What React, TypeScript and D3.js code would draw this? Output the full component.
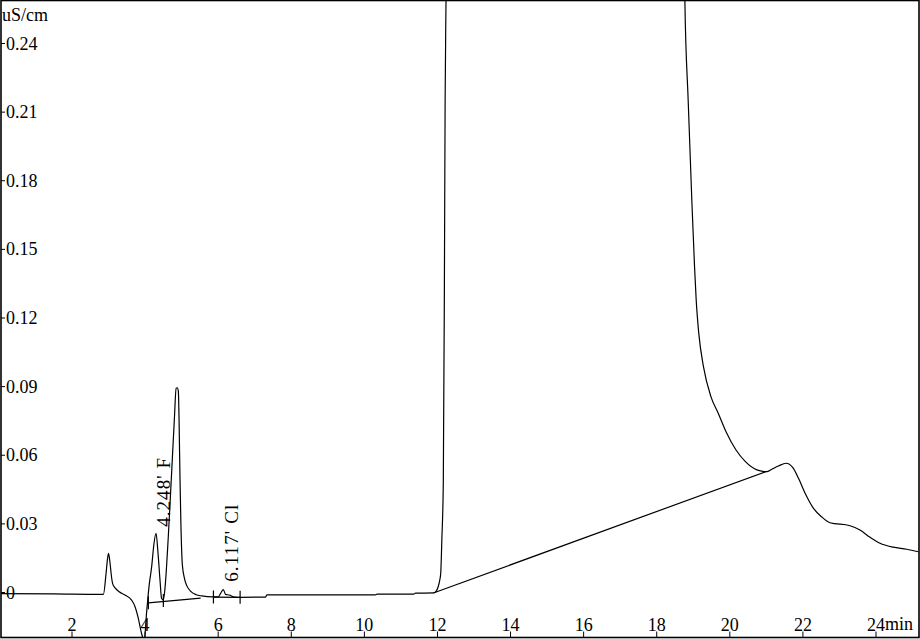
import React from "react";
import * as d3 from "d3";

// ---- data ----
const traceTime: number[] = [
  0, 1.5, 2.75, 2.86, 2.93, 2.97, 3.0, 3.04, 3.08, 3.11, 3.18, 3.29, 3.45, 3.63, 3.72, 3.81, 3.89, 3.93, 3.97,
  4.04, 4.11, 4.18, 4.24, 4.3, 4.35, 4.41, 4.45, 4.5, 4.545, 4.635, 4.73, 4.8, 4.85, 4.88, 4.91, 4.93, 4.955,
  4.98, 5.02, 5.08, 5.14, 5.25, 5.4, 5.55, 5.85, 6.0, 6.08, 6.14, 6.2, 6.3, 6.45, 6.6, 7.3, 7.33, 10.3, 10.35,
  11.35, 11.4, 11.89, 11.96, 12.02, 12.07, 12.09, 12.12, 12.16, 12.19, 12.21, 12.235, 12.3, 18.7, 18.77, 18.86,
  18.96, 19.035, 19.08, 19.15, 19.28, 19.485, 19.68, 19.9, 20.17, 20.42, 20.74, 21.01, 21.15, 21.33, 21.54, 21.72,
  21.88, 22.06, 22.29, 22.51, 22.74, 23.29, 23.56, 23.84, 24.11, 24.47, 24.84, 25.16,
];
const traceSignal: number[] = [
  -0.0005, -0.0006, -0.0008, -0.0008, 0.008, 0.0145, 0.0171, 0.013, 0.007, 0.004, 0.002, 0.0003, -0.0011, -0.0033,
  -0.006, -0.011, -0.017, -0.0195, -0.022, -0.009, 0.003, 0.0113, 0.021, 0.0259, 0.018, 0.005, -0.0025, -0.0033,
  0.002, 0.0244, 0.0536, 0.0755, 0.0893, 0.0895, 0.088, 0.075, 0.05, 0.03, 0.012, 0.006, 0.003, 0.0005, -0.001,
  -0.0015, -0.0019, -0.0019, 0.0, 0.0013, -0.0008, -0.0011, -0.002, -0.0021, -0.002, -0.001, -0.001, -0.0007,
  -0.0007, -0.0003, -0.0002, 0.0005, 0.0025, 0.006, 0.0085, 0.023, 0.048, 0.135, 0.215, 0.26, 0.4, 0.4, 0.259,
  0.2153, 0.1716, 0.1423, 0.1279, 0.1134, 0.0986, 0.0855, 0.0785, 0.0702, 0.0623, 0.0573, 0.0536, 0.0528, 0.0539,
  0.0553, 0.0565, 0.0547, 0.0499, 0.0434, 0.0368, 0.0331, 0.0305, 0.0292, 0.0273, 0.0241, 0.0215, 0.0198, 0.0189,
  0.0178,
];

// integration baselines
const baseF_time = [4.09, 5.52];
const baseF_signal = [-0.0045, -0.0025];
const baseCl_time = [5.87, 6.6];
const baseCl_signal = [-0.002, -0.0021];
const baseBig_time = [11.89, 21.0];
const baseBig_signal = [-0.0002, 0.0529];

// peak delimiter ticks
const delimTime = [4.09, 4.5, 5.87, 6.6];
const delimSignal = [-0.0045, -0.0035, -0.002, -0.0021];

// peak labels
const peakLabelText = ["4.248' F", "6.117' Cl"];
const peakLabelTime = [4.68, 6.54];
const peakLabelSignal = [0.0287, 0.0047];

const xTickValues = [2, 4, 6, 8, 10, 12, 14, 16, 18, 20, 22, 24];
const yTickValues = [0, 0.03, 0.06, 0.09, 0.12, 0.15, 0.18, 0.21, 0.24];
const yTickLabels = ["0", "0.03", "0.06", "0.09", "0.12", "0.15", "0.18", "0.21", "0.24"];

const W = 920;
const H = 639;
const FONT = "'Liberation Serif', 'Times New Roman', serif";

export default function App() {
  const left = 1;
  const right = 919;
  const top = 0.5;
  const bottom = 637.5;

  const x = d3.scaleLinear().domain([2, 24]).range([72, 876]);
  const y = d3.scaleLinear().domain([0, 0.24]).range([592.5, 43.5]);

  const line = d3
    .line<[number, number]>()
    .x((d) => x(d[0]))
    .y((d) => y(d[1]));
  const smooth = d3
    .line<[number, number]>()
    .x((d) => x(d[0]))
    .y((d) => y(d[1]))
    .curve(d3.curveMonotoneX);

  const trace = smooth(traceTime.map((t, i) => [t, traceSignal[i]] as [number, number])) || "";
  const bF = line(baseF_time.map((t, i) => [t, baseF_signal[i]] as [number, number])) || "";
  const bCl = line(baseCl_time.map((t, i) => [t, baseCl_signal[i]] as [number, number])) || "";
  const bBig = line(baseBig_time.map((t, i) => [t, baseBig_signal[i]] as [number, number])) || "";

  return (
    <svg
      width={W}
      height={H}
      style={{ position: "absolute", left: 0, top: 0, display: "block", background: "#fff" }}
    >
      <rect x={0} y={0} width={W} height={H} fill="#fff" />
      <defs>
        <clipPath id="plotClip">
          <rect x={left} y={top} width={right - left} height={bottom - top} />
        </clipPath>
      </defs>

      <g clipPath="url(#plotClip)" fill="none" stroke="#000" strokeWidth={1.2}>
        <path d={trace} />
        <path d={bF} />
        <path d={bCl} />
        <path d={bBig} />
        {delimTime.map((t, i) => (
          <line
            key={"dl" + i}
            x1={x(t)}
            x2={x(t)}
            y1={y(delimSignal[i]) - 6.5}
            y2={y(delimSignal[i]) + 6.5}
          />
        ))}
      </g>

      {/* frame */}
      <rect
        x={left}
        y={top}
        width={right - left}
        height={bottom - top}
        fill="none"
        stroke="#000"
        strokeWidth={1.6}
      />

      {/* y ticks */}
      {yTickValues.map((v, i) => (
        <g key={"yt" + i}>
          <line x1={left} x2={left + 4} y1={y(v)} y2={y(v)} stroke="#000" strokeWidth={1} />
          <text x={6} y={y(v) + 6} fontFamily={FONT} fontSize={18} fill="#000">
            {yTickLabels[i]}
          </text>
        </g>
      ))}

      {/* x ticks */}
      {xTickValues.map((v, i) => (
        <g key={"xt" + i}>
          <line x1={x(v)} x2={x(v)} y1={bottom} y2={bottom - 6} stroke="#000" strokeWidth={1} />
          <text x={x(v)} y={631} textAnchor="middle" fontFamily={FONT} fontSize={18} fill="#000">
            {String(v)}
          </text>
        </g>
      ))}

      <text x={885} y={630} fontFamily={FONT} fontSize={18} fill="#000">
        min
      </text>
      <text x={2} y={20.5} fontFamily={FONT} fontSize={18} fill="#000">
        uS/cm
      </text>

      {/* peak labels */}
      {peakLabelText.map((s, i) => (
        <text
          key={"pl" + i}
          transform={`translate(${x(peakLabelTime[i])},${y(peakLabelSignal[i])}) rotate(-90)`}
          fontFamily={FONT}
          fontSize={19}
          fill="#000"
          textLength={i === 0 ? 69 : 77}
        >
          {s}
        </text>
      ))}
    </svg>
  );
}
